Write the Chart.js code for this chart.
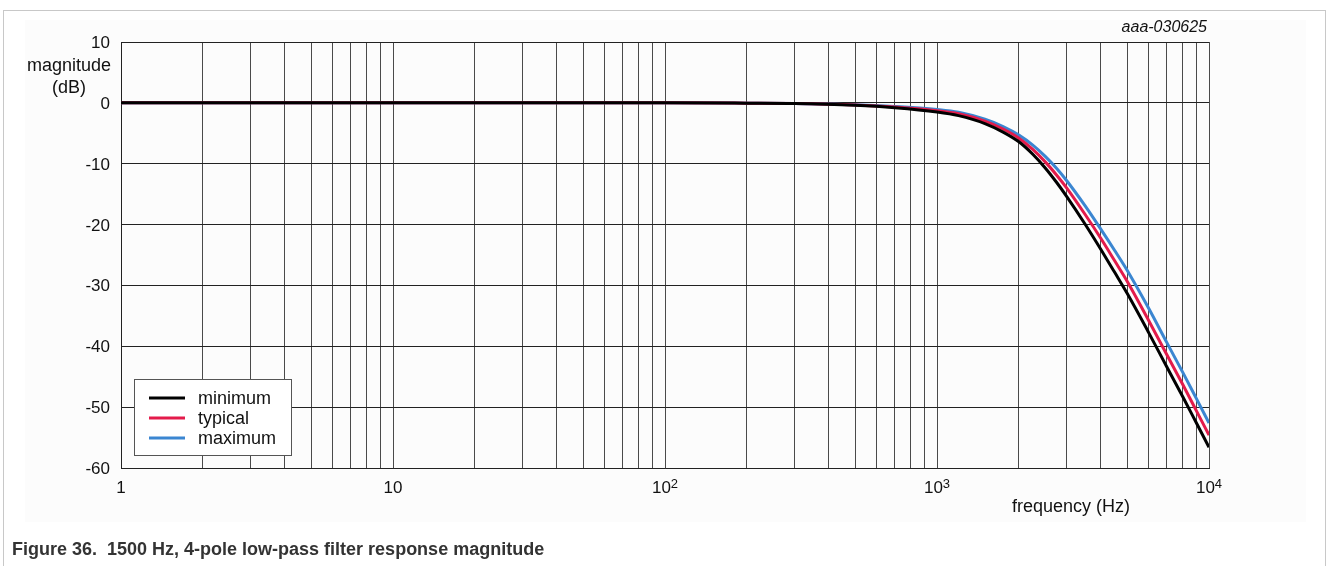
<!DOCTYPE html>
<html>
<head>
<meta charset="utf-8">
<script src="https://cdn.jsdelivr.net/npm/chart.js@4/dist/chart.umd.min.js"></script>
<style>
  html, body { margin: 0; padding: 0; background: #fff; }
  body { width: 1327px; height: 566px; position: relative; overflow: hidden; font-family: "Liberation Sans", Arial, sans-serif; }
  #frame { position: absolute; left: 3px; top: 10px; width: 1321px; height: 600px; border: 1.5px solid #c8c8c8; border-bottom: none; }
  #panel { position: absolute; left: 25px; top: 20px; width: 1281px; height: 502px; background: #fcfcfc; }
  #chart { position: absolute; left: 0; top: 0; }
  #caption { position: absolute; left: 12px; top: 540px; font-size: 18px; font-weight: bold; line-height: 1; color: #333; white-space: pre; }
</style>
</head>
<body>
<div id="frame"></div>
<div id="panel"></div>
<canvas id="chart" width="1327" height="566"></canvas>
<div id="caption">Figure 36.  1500 Hz, 4-pole low-pass filter response magnitude</div>
<script>
// frequency points (Hz)
const frequencies = [1, 10, 100, 200, 300, 500, 700, 1000, 1200, 1500, 1750, 2000, 2250, 2500, 2750, 3000, 3500, 4000, 4500, 5000, 6000, 7000, 8000, 9000, 10000];

// magnitude (dB) per curve
const minimumDb = [0, 0, 0, -0.05, -0.1, -0.4, -0.8, -1.5, -2.1, -3.4, -4.8, -6.4, -8.45, -10.7, -13.05, -15.4, -19.9, -24.05, -27.85, -31.3, -37.75, -43.4, -48.25, -52.65, -56.6];
const typicalDb = [0, 0, 0, -0.05, -0.1, -0.35, -0.7, -1.3, -1.8, -3.0, -4.3, -5.8, -7.65, -9.7, -11.85, -14.0, -18.3, -22.25, -25.95, -29.3, -35.75, -41.4, -46.25, -50.65, -54.6];
const maximumDb = [0, 0, 0, -0.05, -0.1, -0.3, -0.6, -1.1, -1.55, -2.7, -3.9, -5.3, -6.95, -8.8, -10.75, -12.8, -16.9, -20.75, -24.25, -27.5, -33.75, -39.4, -44.25, -48.65, -52.6];

// axis ticks
const yTicks = [10, 0, -10, -20, -30, -40, -50, -60];
const xDecades = [1, 10, 100, 1000, 10000];
const xTickLabels = [
    { base: '1', exp: '' },
    { base: '10', exp: '' },
    { base: '10', exp: '2' },
    { base: '10', exp: '3' },
    { base: '10', exp: '4' }
];

// gridlines at 1..9 of each decade
const xGridValues = [];
xDecades.slice(0, -1).forEach(d => {
    for (let m = 1; m <= 9; m++) xGridValues.push(m * d);
});
xGridValues.push(10000);

const toPoints = (arr) => frequencies.map((f, i) => ({ x: f, y: arr[i] }));

const FONT = '"Liberation Sans", Arial, sans-serif';

// axis labels, titles, legend drawn over the chart
const overlayPlugin = {
    id: 'overlay',
    afterDraw(chart) {
        const { ctx, chartArea, scales: { x, y } } = chart;
        ctx.save();
        ctx.fillStyle = '#111';

        // y tick labels
        ctx.font = '17px ' + FONT;
        ctx.textAlign = 'right';
        ctx.textBaseline = 'alphabetic';
        yTicks.forEach(v => {
            ctx.fillText(String(v), chartArea.left - 11, y.getPixelForValue(v) + 6);
        });

        // x tick labels with superscript exponent
        xDecades.forEach((v, i) => {
            const lbl = xTickLabels[i];
            ctx.font = '17px ' + FONT;
            const wBase = ctx.measureText(lbl.base).width;
            ctx.font = '13px ' + FONT;
            const wExp = lbl.exp ? ctx.measureText(lbl.exp).width : 0;
            const cx = x.getPixelForValue(v);
            const left = cx - (wBase + wExp) / 2;
            const base = chartArea.bottom + 25;
            ctx.textAlign = 'left';
            ctx.font = '17px ' + FONT;
            ctx.fillText(lbl.base, left, base);
            if (lbl.exp) {
                ctx.font = '13px ' + FONT;
                ctx.fillText(lbl.exp, left + wBase, base - 5);
            }
        });

        // axis titles
        ctx.font = '18px ' + FONT;
        ctx.textAlign = 'center';
        ctx.fillText('magnitude', 69, 71);
        ctx.fillText('(dB)', 69, 93);
        ctx.textAlign = 'left';
        ctx.fillText('frequency (Hz)', 1012, 512);

        // figure id
        ctx.font = 'italic 16px ' + FONT;
        ctx.textAlign = 'right';
        ctx.fillText('aaa-030625', 1207, 32);

        // legend box
        const bx = 134, by = 379, bw = 157, bh = 76;
        ctx.fillStyle = '#fff';
        ctx.fillRect(bx, by, bw, bh);
        ctx.strokeStyle = '#555';
        ctx.lineWidth = 1;
        ctx.strokeRect(bx + 0.5, by + 0.5, bw, bh);
        ctx.font = '18px ' + FONT;
        ctx.textAlign = 'left';
        chart.data.datasets.forEach((ds, i) => {
            const ly = 398 + i * 20;
            ctx.strokeStyle = ds.borderColor;
            ctx.lineWidth = 3;
            ctx.beginPath();
            ctx.moveTo(149, ly);
            ctx.lineTo(185, ly);
            ctx.stroke();
            ctx.fillStyle = '#111';
            ctx.fillText(ds.label, 198, ly + 6);
        });
        ctx.restore();
    }
};

const lineStyle = {
    borderWidth: 3,
    pointRadius: 0,
    fill: false,
    cubicInterpolationMode: 'monotone'
};

new Chart(document.getElementById('chart'), {
    type: 'line',
    data: {
        datasets: [
            { label: 'minimum', data: toPoints(minimumDb), borderColor: '#000000', ...lineStyle },
            { label: 'typical', data: toPoints(typicalDb), borderColor: '#e31b4b', ...lineStyle },
            { label: 'maximum', data: toPoints(maximumDb), borderColor: '#3b86d1', ...lineStyle }
        ]
    },
    options: {
        responsive: false,
        animation: false,
        layout: { padding: { left: 121, right: 118, top: 42, bottom: 98 } },
        plugins: {
            legend: { display: false },
            tooltip: { enabled: false }
        },
        scales: {
            x: {
                type: 'logarithmic',
                min: 1,
                max: 10000,
                afterBuildTicks: (scale) => {
                    scale.ticks = xGridValues.map(v => ({ value: v }));
                },
                ticks: { display: false },
                grid: { color: '#4a4a4a', lineWidth: 1, drawTicks: false },
                border: { color: '#222', width: 1 }
            },
            y: {
                min: -60,
                max: 10,
                ticks: { display: false, stepSize: 10 },
                grid: { color: '#222', lineWidth: 1, drawTicks: false },
                border: { color: '#222', width: 1 }
            }
        }
    },
    plugins: [overlayPlugin]
});
</script>
</body>
</html>
